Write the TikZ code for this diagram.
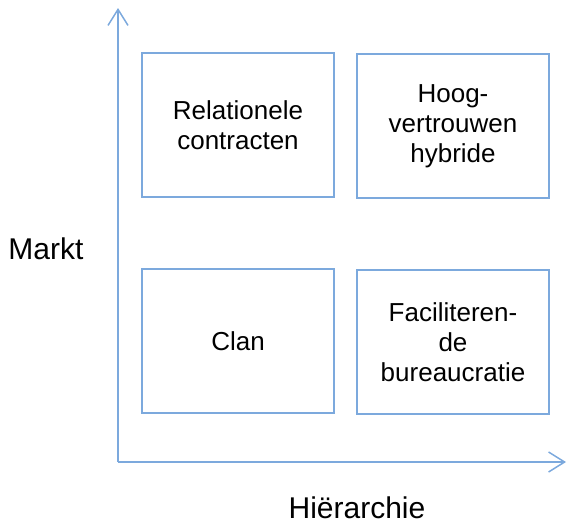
\documentclass[tikz,border=0pt]{standalone}
\usepackage{fontspec}
\setmainfont{Liberation Sans}
\usetikzlibrary{arrows.meta}
\definecolor{axisblue}{RGB}{124,169,221}

\begin{document}
\begin{tikzpicture}[x=1pt,y=-1pt,
   quadrant/.style={draw=axisblue,line width=1.3pt,minimum width=192pt,
      minimum height=144pt,align=center,font=\fontsize{26}{30}\selectfont},
   axis/.style={draw=axisblue,line width=1.5pt,
      -{Straight Barb[length=16pt,width=20pt,line width=1.5pt]}},
   axislabel/.style={font=\fontsize{30}{36}\selectfont}]

\useasboundingbox (0,0) rectangle (568,525);

\coordinate (origin) at (118,462);
\coordinate (ytop) at (118,8);
\coordinate (xend) at (566,462);
\draw[axis] (origin) -- (ytop);
\draw[axis] (origin) -- (xend);

\node[quadrant] (relational) at (238,125) {Relationele\\contracten};
\node[quadrant] (hybrid) at (453,126) {Hoog-\\vertrouwen\\hybride};
\node[quadrant] (clan) at (238,341) {Clan};
\node[quadrant] (bureau) at (453,342) {Faciliteren-\\de\\bureaucratie};

\node[axislabel] (market) at (46,249) {Markt};
\node[axislabel] (hierarchy) at (357,508) {Hiërarchie};

\end{tikzpicture}
\end{document}
